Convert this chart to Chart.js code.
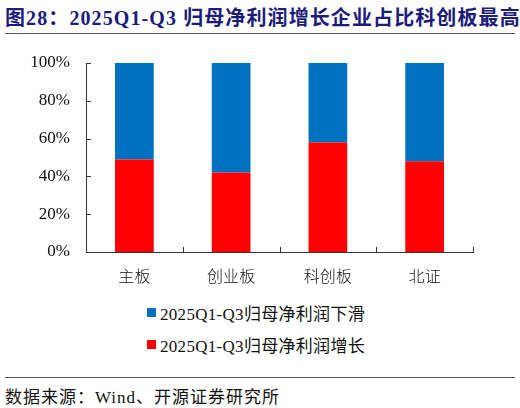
<!DOCTYPE html>
<html>
<head>
<meta charset="utf-8">
<script src="https://cdn.jsdelivr.net/npm/chart.js@4.4.1/dist/chart.umd.min.js"></script>
<style>
  html, body { margin: 0; padding: 0; background: #fff; }
  #page { position: relative; width: 520px; height: 408px; overflow: hidden; }
  #title {
    position: absolute; left: 5px; top: 2px; white-space: nowrap;
    font: bold 20px "Liberation Serif", "Noto Sans CJK SC", serif;
    letter-spacing: 1.1px;
    color: #1c1c7a;
  }
  .rule { position: absolute; left: 5px; width: 510px; height: 0; border-top: 1.5px solid #555; }
  #chartBox { position: absolute; left: 0; top: 40px; width: 520px; height: 250px; }
  #legend { position: absolute; left: 147px; top: 296px; }
  .item { height: 32px; display: flex; align-items: center;
    font: 17px "Liberation Serif", "Noto Sans CJK SC", serif; letter-spacing: 0.3px; color: #111; }
  .box { width: 9px; height: 9px; margin-right: 4px; }
  #source {
    position: absolute; left: 5px; top: 383px; white-space: nowrap;
    font: 17px "Liberation Serif", "Noto Sans CJK SC", serif; letter-spacing: 1px; color: #111;
  }
</style>
</head>
<body>
<div id="page">
  <div id="title">图28：2025Q1-Q3 归母净利润增长企业占比科创板最高</div>
  <div class="rule" style="top:33px"></div>
  <div id="chartBox"><canvas id="mainChart"></canvas></div>
  <div id="legend"></div>
  <div class="rule" style="top:377px"></div>
  <div id="source">数据来源：Wind、开源证券研究所</div>
</div>
<script>
const categories = ['主板', '创业板', '科创板', '北证'];
const growthShare = [49, 42, 58, 48];
const declineShare = [51, 58, 42, 52];
const yTicks = [0, 20, 40, 60, 80, 100];

const axisColor = '#333333';

// draws inward tick marks like the original
const innerTicks = {
    id: 'innerTicks',
    afterDraw(chart) {
        const {ctx, scales: {x, y}, chartArea} = chart;
        ctx.save();
        ctx.strokeStyle = axisColor;
        ctx.lineWidth = 1;
        ctx.beginPath();
        yTicks.forEach(v => {
            const py = Math.round(y.getPixelForValue(v)) + 0.5;
            ctx.moveTo(chartArea.left, py);
            ctx.lineTo(chartArea.left + 5, py);
        });
        const step = (chartArea.right - chartArea.left) / categories.length;
        for (let i = 1; i <= categories.length; i++) {
            const px = Math.round(chartArea.left + step * i) + 0.5;
            ctx.moveTo(px, chartArea.bottom);
            ctx.lineTo(px, chartArea.bottom - 5);
        }
        ctx.stroke();
        ctx.restore();
    }
};

const ctx = document.getElementById('mainChart').getContext('2d');
const chart = new Chart(ctx, {
    type: 'bar',
    data: {
        labels: categories,
        datasets: [{
            label: '2025Q1-Q3归母净利润增长',
            data: growthShare,
            backgroundColor: '#FF0000',
            barPercentage: 0.4,
            categoryPercentage: 1
        }, {
            label: '2025Q1-Q3归母净利润下滑',
            data: declineShare,
            backgroundColor: '#0070C0',
            barPercentage: 0.4,
            categoryPercentage: 1
        }]
    },
    options: {
        responsive: true,
        maintainAspectRatio: false,
        animation: false,
        layout: {
            padding: { top: 23, right: 47, left: 0, bottom: 0 }
        },
        plugins: {
            legend: { display: false },
            tooltip: { enabled: false }
        },
        scales: {
            x: {
                stacked: true,
                grid: { display: false, drawTicks: false },
                border: { color: axisColor, width: 1 },
                ticks: {
                    color: '#111',
                    padding: 14,
                    font: { family: '"Noto Sans CJK SC"', size: 16, weight: 300 }
                },
                afterFit: scale => { scale.height = 38; }
            },
            y: {
                stacked: true,
                min: 0,
                max: 100,
                afterBuildTicks: scale => {
                    scale.ticks = yTicks.map(v => ({ value: v }));
                },
                grid: { display: false, drawTicks: false },
                border: { color: axisColor, width: 1 },
                ticks: {
                    color: '#111',
                    padding: 16,
                    font: { family: '"Liberation Serif"', size: 17 },
                    callback: value => `${value}%`
                },
                afterFit: scale => {
                    scale.width = 86;
                    // keep label padding from pushing the plot down
                    scale.paddingTop = 0;
                    scale.paddingBottom = 0;
                }
            }
        }
    },
    plugins: [innerTicks]
});

// legend listed top to bottom like the original (decline first)
const legendEl = document.getElementById('legend');
chart.data.datasets.slice().reverse().forEach(ds => {
    const row = document.createElement('div');
    row.className = 'item';
    const box = document.createElement('span');
    box.className = 'box';
    box.style.background = ds.backgroundColor;
    const txt = document.createElement('span');
    txt.textContent = ds.label;
    row.appendChild(box);
    row.appendChild(txt);
    legendEl.appendChild(row);
});
</script>
</body>
</html>
